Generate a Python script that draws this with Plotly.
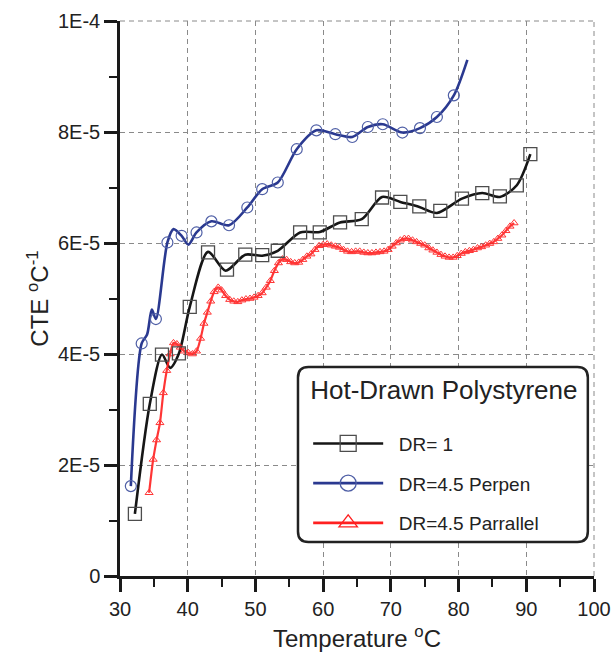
import plotly.graph_objects as go

E5 = 1e-5  # CTE values below are listed in units of 1E-5 per degC

# DR = 1 : smooth curve points and the measured (square) points
dr1_line_temp = [32.2, 34.4, 36.2, 37.4, 38.7, 40.3, 43.0, 45.6, 48.5, 51.0, 53.3,
                 56.6, 59.5, 62.5, 65.7, 68.7, 71.4, 74.2, 76.8, 80.5, 83.5, 86.1,
                 88.6, 90.6]
dr1_line_cte = [1.12, 3.10, 3.99, 3.75, 4.01, 4.85, 5.84, 5.50, 5.79, 5.77, 5.86,
                6.19, 6.20, 6.37, 6.43, 6.83, 6.74, 6.65, 6.54, 6.80, 6.90, 6.83,
                7.04, 7.60]
dr1_temp = [32.2, 34.4, 36.2, 38.7, 40.3, 43.0, 45.8, 48.5, 51.0, 53.3, 56.6,
            59.5, 62.5, 65.7, 68.7, 71.4, 74.2, 77.3, 80.5, 83.5, 86.1, 88.6, 90.6]
dr1_cte = [1.12, 3.10, 3.99, 4.01, 4.85, 5.83, 5.52, 5.79, 5.78, 5.86, 6.19,
           6.19, 6.37, 6.43, 6.82, 6.74, 6.66, 6.58, 6.80, 6.90, 6.84, 7.04, 7.60]

# DR = 4.5, perpendicular : curve points and circle points
perp_line_temp = [31.6, 33.2, 34.0, 34.7, 35.3, 37.0, 37.9, 39.1, 40.1, 41.3, 43.5,
                  46.1, 48.8, 51.0, 53.3, 56.1, 59.0, 61.8, 64.3, 66.6, 68.8, 71.7,
                  74.3, 76.8, 79.3, 81.3]
perp_line_cte = [1.62, 4.19, 4.35, 4.80, 4.63, 6.01, 6.25, 6.13, 5.97, 6.19, 6.39,
                 6.32, 6.64, 6.97, 7.09, 7.69, 8.03, 7.96, 7.91, 8.09, 8.14, 7.99,
                 8.07, 8.27, 8.66, 9.30]
perp_temp = [31.6, 33.2, 35.3, 37.0, 39.1, 41.3, 43.5, 46.1, 48.8, 51.0, 53.3,
             56.1, 59.0, 61.8, 64.3, 66.6, 68.8, 71.7, 74.3, 76.8, 79.3]
perp_cte = [1.62, 4.19, 4.63, 6.01, 6.13, 6.19, 6.39, 6.32, 6.64, 6.97, 7.09,
            7.69, 8.03, 7.96, 7.91, 8.09, 8.14, 7.99, 8.07, 8.27, 8.66]

# DR = 4.5, parallel : densely sampled (triangles)
par_temp = [34.3, 34.9, 35.4, 35.9, 36.4, 36.9, 37.4, 37.9, 38.4, 38.9, 39.5, 40.1,
            40.7, 41.3, 41.9, 42.4, 42.9, 43.4, 43.9, 44.5, 45.0, 45.6, 46.2, 46.8,
            47.4, 48.0, 48.6, 49.2, 49.8, 50.4, 51.0, 51.6, 52.2, 52.8, 53.4, 54.0,
            54.6, 55.2, 55.8, 56.4, 57.0, 57.6, 58.2, 58.8, 59.4, 60.0, 60.6, 61.2,
            61.8, 62.4, 63.0, 63.6, 64.2, 64.8, 65.4, 66.0, 66.6, 67.2, 67.8, 68.4,
            69.0, 69.6, 70.2, 70.8, 71.4, 72.0, 72.6, 73.2, 73.8, 74.4, 75.0, 75.6,
            76.2, 76.8, 77.4, 78.0, 78.6, 79.2, 79.8, 80.4, 81.0, 81.6, 82.2, 82.8,
            83.4, 84.0, 84.6, 85.2, 85.8, 86.4, 87.0, 87.6, 88.2]
par_cte = [1.50, 2.10, 2.45, 2.76, 3.30, 3.70, 4.00, 4.20, 4.18, 4.12, 4.05, 4.02,
           4.00, 4.05, 4.28, 4.55, 4.75, 4.95, 5.12, 5.20, 5.15, 5.05, 4.98, 4.95,
           4.94, 4.97, 4.99, 5.00, 5.02, 5.05, 5.10, 5.20, 5.32, 5.50, 5.64, 5.71,
           5.70, 5.66, 5.64, 5.65, 5.70, 5.76, 5.80, 5.88, 5.95, 5.97, 5.98, 5.96,
           5.94, 5.92, 5.88, 5.85, 5.84, 5.85, 5.85, 5.83, 5.82, 5.82, 5.83, 5.84,
           5.85, 5.88, 5.94, 6.00, 6.05, 6.08, 6.08, 6.05, 6.02, 5.99, 5.96, 5.91,
           5.87, 5.83, 5.79, 5.76, 5.74, 5.74, 5.77, 5.81, 5.84, 5.86, 5.88, 5.91,
           5.93, 5.96, 5.99, 6.02, 6.08, 6.14, 6.22, 6.30, 6.36]

x_ticks = [30, 40, 50, 60, 70, 80, 90, 100]
y_ticks = [0, 2, 4, 6, 8, 10]
y_tick_text = ["0", "2E-5", "4E-5", "6E-5", "8E-5", "1E-4"]

legend_title = "Hot-Drawn Polystyrene"
names = ["DR= 1", "DR=4.5 Perpen", "DR=4.5 Parrallel"]

BLACK, SQ = "#161616", "#4d4d4d"
BLUE, CIRC = "#2a3990", "#4f5fa6"
RED = "#ff2020"
GRID = "#8a8a8a"
FONT = "Liberation Sans, Arial, sans-serif"
NBSP = "\u00a0"


def scaled(vals):
    return [v * E5 for v in vals]


fig = go.Figure()

# curves
fig.add_trace(go.Scatter(x=dr1_line_temp, y=scaled(dr1_line_cte), mode="lines",
                         line=dict(color=BLACK, width=2.6, shape="spline", smoothing=0.8),
                         showlegend=False, hoverinfo="skip"))
fig.add_trace(go.Scatter(x=perp_line_temp, y=scaled(perp_line_cte), mode="lines",
                         line=dict(color=BLUE, width=2.6, shape="spline", smoothing=0.8),
                         showlegend=False, hoverinfo="skip"))
fig.add_trace(go.Scatter(x=par_temp, y=scaled(par_cte), mode="lines+markers",
                         line=dict(color=RED, width=2.2, shape="spline", smoothing=0.8),
                         marker=dict(symbol="triangle-up-open", size=7, color=RED,
                                     line=dict(width=1, color=RED)),
                         opacity=0.9, showlegend=False, name=names[2]))

# measured points
fig.add_trace(go.Scatter(x=dr1_temp, y=scaled(dr1_cte), mode="markers",
                         marker=dict(symbol="square-open", size=13, color=SQ,
                                     line=dict(width=1.3, color=SQ)),
                         showlegend=False, name=names[0]))
fig.add_trace(go.Scatter(x=perp_temp, y=scaled(perp_cte), mode="markers",
                         marker=dict(symbol="circle-open", size=11, color=CIRC,
                                     line=dict(width=1.2, color=CIRC)),
                         showlegend=False, name=names[1]))

# legend entries
legend_styles = [
    (BLACK, dict(symbol="square-open", size=16, color=SQ, line=dict(width=1.3, color=SQ))),
    (BLUE, dict(symbol="circle-open", size=16, color=CIRC, line=dict(width=1.3, color=CIRC))),
    (RED, dict(symbol="triangle-up-open", size=16, color=RED, line=dict(width=1.3, color=RED))),
]
for i, (name, (lc, mk)) in enumerate(zip(names, legend_styles)):
    fig.add_trace(go.Scatter(x=[None], y=[None], mode="lines+markers",
                             name=NBSP * 2 + name,
                             legendgroup=f"g{i}", line=dict(color=lc, width=2.6),
                             marker=mk))


def rounded_box(x0, y0, x1, y1, rx, ry):
    return (f"M{x0 + rx},{y0} L{x1 - rx},{y0} Q{x1},{y0} {x1},{y0 + ry} "
            f"L{x1},{y1 - ry} Q{x1},{y1} {x1 - rx},{y1} L{x0 + rx},{y1} "
            f"Q{x0},{y1} {x0},{y1 - ry} L{x0},{y0 + ry} Q{x0},{y0} {x0 + rx},{y0} Z")


# dashed grid lines along the top and right edges of the plot area
fig.add_shape(type="line", xref="paper", yref="paper", x0=0, x1=1, y0=1, y1=1,
              line=dict(color=GRID, width=1, dash="5px,4px"))
fig.add_shape(type="line", xref="paper", yref="paper", x0=1, x1=1, y0=0, y1=1,
              line=dict(color=GRID, width=1, dash="5px,4px"))

# rounded frame behind the legend
fig.add_shape(type="path", xref="paper", yref="paper", layer="above",
              path=rounded_box(0.3755, 0.0613, 0.987, 0.3766, 0.022, 0.019),
              line=dict(color="#222", width=2.5), fillcolor="white")

axis_common = dict(
    showline=True, linecolor="#1a1a1a", linewidth=2.5,
    ticks="outside", tickcolor="#1a1a1a", tickwidth=2.5, ticklen=13,
    showgrid=True, gridcolor=GRID, gridwidth=1, griddash="5px,4px",
    zeroline=False, automargin=False,
    tickfont=dict(family=FONT, size=20, color="#222"),
)

fig.update_xaxes(range=[30, 100], tickvals=x_ticks,
                 title=dict(text="Temperature <sup>o</sup>C", standoff=12,
                            font=dict(family=FONT, size=24, color="#222")),
                 minor=dict(dtick=5, ticks="outside", ticklen=8, tickwidth=2.2,
                            tickcolor="#1a1a1a", showgrid=False),
                 **axis_common)
fig.update_yaxes(range=[0, 1e-4], tickvals=scaled(y_ticks), ticktext=y_tick_text,
                 title=dict(text="CTE <sup>o</sup>C<sup>-1</sup>", standoff=3,
                            font=dict(family=FONT, size=24, color="#222")),
                 minor=dict(dtick=1e-5, ticks="outside", ticklen=8, tickwidth=2.2,
                            tickcolor="#1a1a1a", showgrid=False),
                 **axis_common)

fig.update_layout(
    width=616, height=654,
    margin=dict(l=120, r=22, t=21, b=78),
    paper_bgcolor="white", plot_bgcolor="white",
    font=dict(family=FONT, color="#222"),
    showlegend=True,
    legend=dict(x=0.397, y=0.3665, xanchor="left", yanchor="top",
                bgcolor="rgba(0,0,0,0)", borderwidth=0,
                title=dict(text=f"<span style='font-size:26px'>{legend_title}</span>"
                                f"<br>{NBSP}",
                           font=dict(family=FONT, size=20, color="#222")),
                font=dict(family=FONT, size=19, color="#222"),
                itemwidth=70, tracegroupgap=12),
)

fig.write_html("out.html")
